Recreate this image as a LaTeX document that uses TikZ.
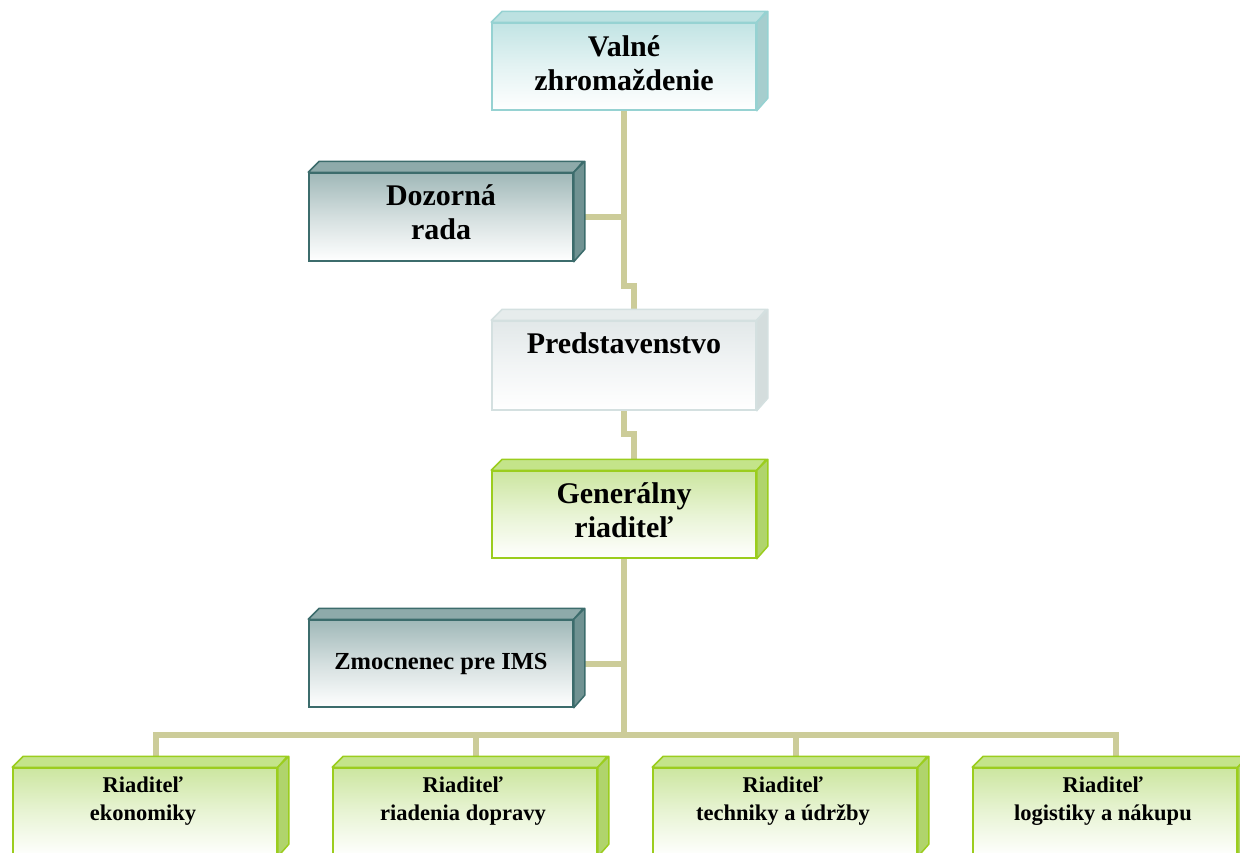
\documentclass[tikz,border=0pt]{standalone}
\usepackage{fontspec}
\setmainfont{Liberation Serif}
\usetikzlibrary{backgrounds}
\definecolor{conncol}{RGB}{204,204,153}
% Valne zhromazdenie (light cyan)
\definecolor{vzt}{RGB}{194,228,228}
\definecolor{vzb}{RGB}{150,210,210}
\definecolor{vzu}{RGB}{188,225,225}
\definecolor{vzs}{RGB}{166,206,206}
% Dozorna rada / Zmocnenec (dark teal)
\definecolor{drt}{RGB}{160,184,184}
\definecolor{drb}{RGB}{60,108,108}
\definecolor{dru}{RGB}{142,170,170}
\definecolor{drs}{RGB}{112,146,146}
% Predstavenstvo (light grey)
\definecolor{prt}{RGB}{226,232,233}
\definecolor{prb}{RGB}{212,224,224}
\definecolor{pru}{RGB}{230,236,236}
\definecolor{prs}{RGB}{212,221,221}
% Green
\definecolor{grt}{RGB}{204,230,160}
\definecolor{grb}{RGB}{155,205,30}
\definecolor{gru}{RGB}{196,228,138}
\definecolor{grs}{RGB}{176,212,108}
\tikzset{
  face/.style={rectangle, draw=#1b, line width=1.5pt, top color=#1t, bottom color=white, middle color=#1t!45!white, inner sep=0pt},
  conn/.style={draw=conncol, line width=6pt, line join=miter},
  tbig/.style={align=center, font=\bfseries\fontsize{30}{34}\selectfont, inner sep=0pt},
  tmid/.style={align=center, font=\bfseries\fontsize{24.5}{28}\selectfont, inner sep=0pt},
  tsmall/.style={align=center, font=\bfseries\fontsize{22.5}{28}\selectfont, inner sep=0pt},
}
% #1 name, #2 x, #3 y, #4 width, #5 height, #6 theme
\newcommand\cubebox[6]{%
  \node[face=#6, minimum width=#4pt, minimum height=#5pt] (#1) at (#2,#3) {};
  \filldraw[fill=#6u, draw=#6b, line width=1.5pt, line join=round] (#1.north west) -- ++(11,-11) -- ++(#4,0) -- (#1.north east) -- cycle;
  \filldraw[fill=#6s, draw=#6b, line width=1.5pt, line join=round] (#1.north east) -- ++(11,-11) -- ++(0,#5) -- (#1.south east) -- cycle;
}
\begin{document}
\begin{tikzpicture}[x=1pt, y=-1pt]
\clip (0,0) rectangle (1240,852);
\coordinate (bus) at (624,735);
% boxes
\cubebox{vz}{624}{66.5}{264}{87}{vz}
\cubebox{dr}{441}{217}{264}{88}{dr}
\cubebox{pr}{624}{365.5}{264}{89}{pr}
\cubebox{gr}{624}{514.5}{264}{87}{gr}
\cubebox{zm}{441}{663.5}{264}{87}{dr}
\cubebox{b1}{145}{812}{264}{88}{gr}
\cubebox{b2}{465}{812}{264}{88}{gr}
\cubebox{b3}{785}{812}{264}{88}{gr}
\cubebox{b4}{1105}{812}{264}{88}{gr}
% texts
\node[tbig] (vzl) at (624,63) {Valné\\zhromaždenie};
\node[tbig] (drl) at (441,212) {Dozorná\\rada};
\node[tbig] (prl) at (624,343) {Predstavenstvo};
\node[tbig] (grl) at (624,510) {Generálny\\riaditeľ};
\node[tmid] (zml) at (441,664) {Zmocnenec pre IMS};
\node[tsmall] (b1l) at (143,801) {Riaditeľ\\ekonomiky};
\node[tsmall] (b2l) at (463,801) {Riaditeľ\\riadenia dopravy};
\node[tsmall] (b3l) at (783,801) {Riaditeľ\\techniky a údržby};
\node[tsmall] (b4l) at (1103,801) {Riaditeľ\\logistiky a nákupu};
% connectors behind the boxes
\begin{scope}[on background layer]
\fill[white] (0,0) rectangle (1240,852);
\draw[conn] (vz.south) -- ++(0,175) -- ++(10,0) -- ([xshift=10pt]pr.north);
\draw[conn] (dr.east) -- (dr.east -| vz.south);
\draw[conn] (pr.south) -- ++(0,23) -- ++(10,0) -- ([xshift=10pt]gr.north);
\draw[conn] (gr.south) -- (gr.south |- bus);
\draw[conn] (zm.east) -- (zm.east -| gr.south);
\draw[conn] ([xshift=11pt]b1.north) -- ([xshift=11pt]b1.north |- bus) -- ([xshift=11pt]b4.north |- bus) -- ([xshift=11pt]b4.north);
\draw[conn] ([xshift=11pt]b2.north |- bus) -- ([xshift=11pt]b2.north);
\draw[conn] ([xshift=11pt]b3.north |- bus) -- ([xshift=11pt]b3.north);
\end{scope}
\end{tikzpicture}
\end{document}
